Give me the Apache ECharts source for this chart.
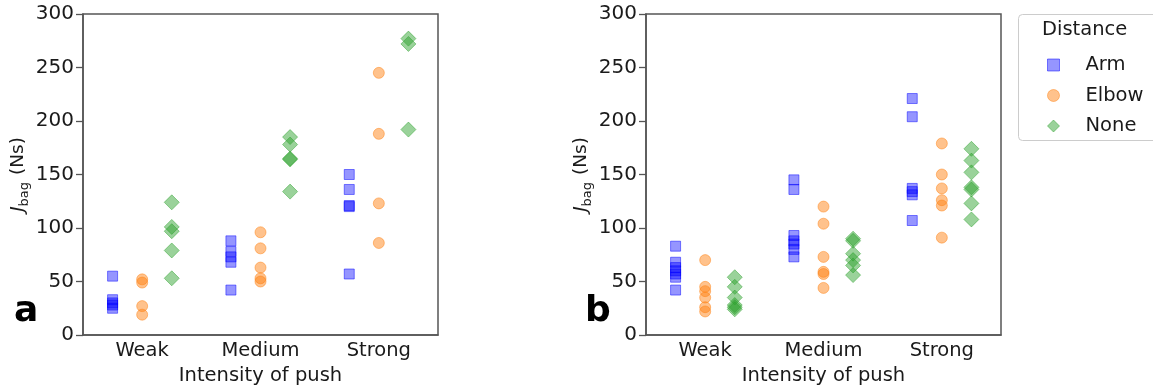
<!DOCTYPE html>
<html>
<head>
<meta charset="utf-8">
<script src="https://cdn.jsdelivr.net/npm/echarts@6/dist/echarts.min.js"></script>
<style>html,body{margin:0;padding:0;background:#fff}#c{width:1153px;height:391px}</style>
</head>
<body>
<div id="c"></div>
<script>
// ---- data ----
const categories = ['Weak', 'Medium', 'Strong'];
const distances = ['Arm', 'Elbow', 'None'];
const yTicks = [0, 50, 100, 150, 200, 250, 300];

// panel a: values per intensity (Weak, Medium, Strong)
const aArm   = [[55, 33, 30, 28, 25], [88, 78, 73, 68, 42], [150, 136, 121, 120, 57]];
const aElbow = [[52, 49, 27, 19], [96, 81, 63, 53, 50], [245, 188, 123, 86]];
const aNone  = [[124, 101, 97, 79, 53], [185, 178, 165, 164, 134], [277, 272, 192]];

// panel b
const bArm   = [[83, 68, 63, 60, 57, 54, 42], [145, 136, 93, 88, 85, 80, 73], [221, 204, 137, 134, 131, 107]];
const bElbow = [[70, 45, 41, 35, 26, 22], [120, 104, 73, 59, 57, 44], [179, 150, 137, 126, 121, 91]];
const bNone  = [[54, 45, 35, 28, 26, 24], [90, 88, 76, 70, 65, 56], [174, 163, 152, 138, 136, 123, 108]];

// ---- build ----
const offsets = {Arm: -0.5, Elbow: 0, None: 0.5};
function pts(arr, name) {
  const out = [];
  arr.forEach((vals, ci) => vals.forEach(v => out.push([ci * 2 + 1 + offsets[name], v])));
  return out;
}
const styles = {
  Arm:   {symbol: 'rect', symbolSize: 10, color: 'rgba(0,0,255,0.52)', border: 'rgba(0,0,255,0.6)'},
  Elbow: {symbol: 'circle', symbolSize: 11, color: 'rgba(255,127,14,0.6)', border: 'rgba(255,127,14,0.6)'},
  None:  {symbol: 'diamond', symbolSize: 15, color: 'rgba(44,160,44,0.6)', border: 'rgba(44,160,44,0.6)'}
};
const FONT = 'DejaVu Sans';
const labelMap = {1: categories[0], 3: categories[1], 5: categories[2]};

function xAxis(gi) {
  return {
    type: 'value', gridIndex: gi, min: 0, max: 6, interval: 1,
    axisLine: {show: true, lineStyle: {color: '#555', width: 1.5}},
    axisTick: {show: false}, splitLine: {show: false},
    axisLabel: {formatter: v => labelMap[v] || '', color: '#1a1a1a', fontSize: 19.5, fontFamily: FONT, margin: 6},
    name: 'Intensity of push', nameLocation: 'middle', nameGap: 31,
    nameTextStyle: {color: '#1a1a1a', fontSize: 19.5, fontFamily: FONT}
  };
}
function yAxis(gi) {
  return {
    type: 'value', gridIndex: gi, min: yTicks[0], max: yTicks[yTicks.length - 1], interval: 50,
    axisLine: {show: true, lineStyle: {color: '#555', width: 1.5}},
    axisTick: {show: true, inside: false, length: 7, lineStyle: {color: '#555', width: 1.3}},
    splitLine: {show: false},
    axisLabel: {color: '#1a1a1a', fontSize: 20, fontFamily: FONT, margin: 9},
    name: '{i|J}{s|bag}{n| (Ns)}', nameLocation: 'middle', nameRotate: 90, nameGap: 52,
    nameTextStyle: {
      rich: {
        i: {fontSize: 18.5, fontFamily: FONT, fontStyle: 'italic', color: '#1a1a1a', lineHeight: 26, verticalAlign: 'middle'},
        s: {fontSize: 13, fontFamily: FONT, color: '#1a1a1a', lineHeight: 26, verticalAlign: 'bottom', padding: [0, 1, 0, 0]},
        n: {fontSize: 18.5, fontFamily: FONT, color: '#1a1a1a', lineHeight: 26, verticalAlign: 'middle'}
      }
    }
  };
}

const panels = [[aArm, aElbow, aNone], [bArm, bElbow, bNone]];
const series = [];
panels.forEach((p, gi) => {
  p.forEach((arr, di) => {
    const name = distances[di];
    const s = styles[name];
    series.push({
      type: 'scatter', name: name, xAxisIndex: gi, yAxisIndex: gi,
      symbol: s.symbol, symbolSize: s.symbolSize,
      itemStyle: {color: s.color, borderColor: s.border, borderWidth: 1},
      emphasis: {disabled: true},
      data: pts(arr, name)
    });
  });
});

const legendData = distances.map(n => ({
  name: n,
  icon: styles[n].symbol,
  itemStyle: {color: styles[n].color, borderColor: styles[n].border, borderWidth: 1}
}));

const chart = echarts.init(document.getElementById('c'), null, {renderer: 'canvas'});
chart.setOption({
  animation: false,
  backgroundColor: '#fff',
  grid: [
    {left: 83, top: 14, width: 355, height: 321, show: true, borderColor: '#555', borderWidth: 1.5, containLabel: false},
    {left: 646, top: 14, width: 355, height: 321, show: true, borderColor: '#555', borderWidth: 1.5, containLabel: false}
  ],
  xAxis: [xAxis(0), xAxis(1)],
  yAxis: [yAxis(0), yAxis(1)],
  legend: {
    data: legendData, orient: 'vertical', left: 1042, top: 50,
    itemWidth: 12, itemHeight: 12, itemGap: 10.5,
    textStyle: {fontSize: 19.5, fontFamily: FONT, color: '#1a1a1a', lineHeight: 20, padding: [0, 0, 0, 21]},
    selectedMode: false
  },
  graphic: [
    {type: 'rect', left: 1018, top: 14, shape: {width: 150, height: 126, r: 4}, style: {fill: '#fff', stroke: '#cccccc', lineWidth: 1}, z: -1},
    {type: 'text', left: 1042, top: 20, style: {text: 'Distance', font: '19.5px "DejaVu Sans"', fill: '#1a1a1a'}},
    {type: 'text', left: 14, top: 294, style: {text: 'a', font: 'bold 36px "DejaVu Sans"', fill: '#000'}},
    {type: 'text', left: 585, top: 294, style: {text: 'b', font: 'bold 36px "DejaVu Sans"', fill: '#000'}}
  ],
  series: series
});
</script>
</body>
</html>
